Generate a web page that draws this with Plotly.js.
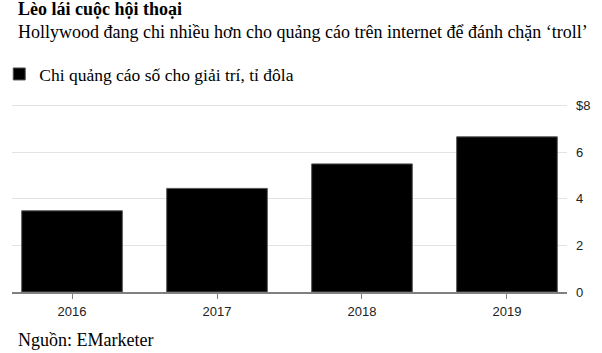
<!DOCTYPE html>
<html>
<head>
<meta charset="utf-8">
<script src="https://cdn.plot.ly/plotly-3.0.1.min.js"></script>
<style>html,body{margin:0;padding:0;background:#fff;}#chart{width:602px;height:353px;}</style>
</head>
<body>
<div id="chart"></div>
<script>
const years = ['2016', '2017', '2018', '2019'];
const spending = [3.48, 4.44, 5.49, 6.65];
const seriesName = 'Chi quảng cáo số cho giải trí, tỉ đôla';
const yTickVals = [0, 2, 4, 6, 8];
const yTickText = ['0', '2', '4', '6', '$8'];
const titleText = 'Lèo lái cuộc hội thoại';
const subtitleText = 'Hollywood đang chi nhiều hơn cho quảng cáo trên internet để đánh chặn ‘troll’';
const sourceText = 'Nguồn: EMarketer';

const serif = '"Liberation Serif", "Times New Roman", serif';
const sans = '"Liberation Sans", Arial, sans-serif';

const data = [{
  type: 'bar',
  x: years,
  y: spending,
  name: seriesName,
  marker: {color: '#000000', line: {color: '#555555', width: 1}},
  width: 0.694,
  hoverinfo: 'x+y'
}];

const layout = {
  width: 602,
  height: 353,
  margin: {l: 12, r: 35, t: 103, b: 61, pad: 0, autoexpand: false},
  paper_bgcolor: '#ffffff',
  plot_bgcolor: '#ffffff',
  showlegend: true,
  legend: {
    x: -0.023, y: 1.153, xanchor: 'left', yanchor: 'middle',
    orientation: 'h',
    font: {family: serif, size: 17.5, color: '#000'},
    itemwidth: 30
  },
  xaxis: {
    type: 'category',
    range: [-0.414, 3.414],
    showgrid: false,
    showline: true,
    linecolor: '#808080',
    linewidth: 1.5,
    ticks: 'outside',
    ticklen: 5,
    tickcolor: '#808080',
    ticklabelstandoff: 2,
    tickfont: {family: sans, size: 13, color: '#222'},
    fixedrange: true
  },
  yaxis: {
    side: 'right',
    range: [0, 8.1],
    tickvals: yTickVals,
    ticktext: yTickText,
    showgrid: true,
    gridcolor: '#e3e3e3',
    gridwidth: 1,
    zeroline: false,
    showline: false,
    ticks: '',
    ticklabelstandoff: 8,
    tickfont: {family: sans, size: 13, color: '#222'},
    fixedrange: true
  },
  annotations: [
    {xref: 'paper', yref: 'paper', x: 0.008, y: 1.0, xanchor: 'left', yanchor: 'bottom', align: 'left',
     text: '<b>' + titleText + '</b><br>' + subtitleText, showarrow: false,
     font: {family: serif, size: 18, color: '#000'}, yshift: 59},
    {xref: 'paper', yref: 'paper', x: 0.008, y: 0, xanchor: 'left', yanchor: 'top',
     text: sourceText, showarrow: false,
     font: {family: serif, size: 18, color: '#000'}, yshift: -36}
  ]
};

Plotly.newPlot('chart', data, layout, {displayModeBar: false, staticPlot: true});
</script>
</body>
</html>
